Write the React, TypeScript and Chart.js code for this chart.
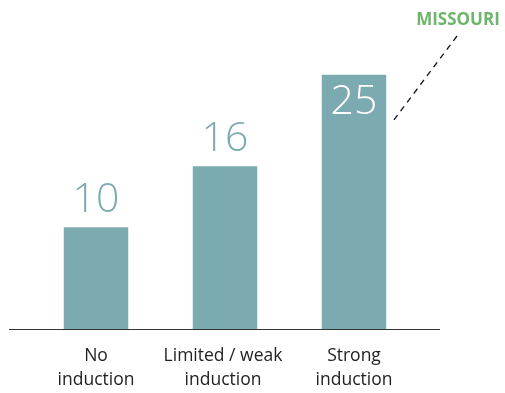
import React, { useEffect, useRef } from "react";
import { Chart, registerables } from "chart.js";

Chart.register(...registerables);

const categories: string[][] = [["No", "induction"], ["Limited / weak", "induction"], ["Strong", "induction"]];
const values: number[] = [10, 16, 25];
const annotationLabel = "MISSOURI";
const annotatedIndex = 2;

const TEAL = "#7BAAB0";
const GREEN = "#6DB56A";

const overlay = {
  id: "overlay",
  afterDatasetsDraw(chart: any) {
    const ctx = chart.ctx;
    const x = chart.scales.x;
    const y = chart.scales.y;
    const meta = chart.getDatasetMeta(0);
    ctx.save();
    // baseline axis
    ctx.strokeStyle = "#333";
    ctx.lineWidth = 1.2;
    ctx.beginPath();
    ctx.moveTo(9, y.getPixelForValue(0) + 0.5);
    ctx.lineTo(440, y.getPixelForValue(0) + 0.5);
    ctx.stroke();
    // category labels
    ctx.fillStyle = "#222";
    ctx.font = "17.5px 'Open Sans'";
    ctx.textAlign = "center";
    ctx.textBaseline = "middle";
    categories.forEach((lines, i) => {
      const cx = x.getPixelForValue(i) - (i === 1 ? 2 : 0);
      lines.forEach((l, j) => ctx.fillText(l, cx, 356 + j * 24));
    });
    // value labels
    ctx.font = "300 41px 'Open Sans'";
    values.forEach((v, i) => {
      const bar = meta.data[i];
      if (i === annotatedIndex) {
        ctx.fillStyle = "#ffffff";
        ctx.fillText(String(v), bar.x, bar.y + 27);
      } else {
        ctx.fillStyle = TEAL;
        ctx.fillText(String(v), bar.x, bar.y - 27);
      }
    });
    // annotation
    const b = meta.data[annotatedIndex];
    ctx.fillStyle = GREEN;
    ctx.font = "bold 17px 'Open Sans'";
    ctx.fillText(annotationLabel, 458, 20);
    ctx.strokeStyle = "#111";
    ctx.lineWidth = 1.3;
    ctx.setLineDash([6, 5]);
    ctx.beginPath();
    ctx.moveTo(457, 36);
    ctx.lineTo(b.x + 40, b.y + 45);
    ctx.stroke();
    ctx.restore();
  },
};

export default function App() {
  const ref = useRef<HTMLCanvasElement>(null);
  useEffect(() => {
    document.body.style.margin = "0";
    const chart = new Chart(ref.current!, {
      type: "bar",
      data: {
        labels: categories.map((c) => c.join(" ")),
        datasets: [
          {
            data: values,
            backgroundColor: TEAL,
            barPercentage: 0.5,
            categoryPercentage: 1,
          },
        ],
      },
      options: {
        animation: false,
        responsive: false,
        layout: { padding: { left: 31.5, right: 86.5, top: 24, bottom: 64 } },
        plugins: { legend: { display: false }, tooltip: { enabled: false } },
        scales: {
          x: { display: false },
          y: { display: false, min: 0, max: 30 },
        },
      },
      plugins: [overlay],
    });
    return () => chart.destroy();
  }, []);
  return (
    <div style={{ width: 505, height: 393 }}>
      <canvas ref={ref} width={505} height={393} />
    </div>
  );
}
